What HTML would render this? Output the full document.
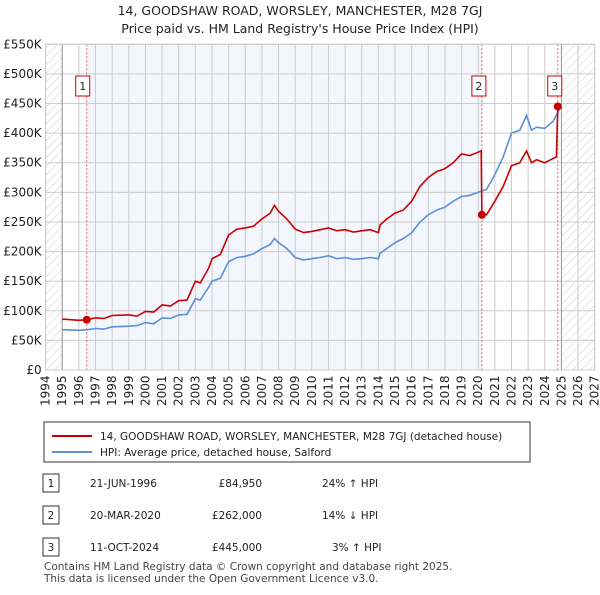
<!DOCTYPE html>
<html><head><meta charset="utf-8"><style>
body{margin:0;background:#fff;font-family:"Liberation Sans","DejaVu Sans",sans-serif;}
svg text{font-family:"DejaVu Sans","Liberation Sans",sans-serif;}
</style></head><body>
<svg width="600" height="590" xmlns="http://www.w3.org/2000/svg">
<defs><pattern id="hatch" width="6" height="6" patternUnits="userSpaceOnUse" patternTransform="rotate(45)"><line x1="0" y1="0" x2="0" y2="6" stroke="#ccc" stroke-width="1"/></pattern></defs>
<text x="300" y="15" text-anchor="middle" font-size="12.5" fill="#222">14, GOODSHAW ROAD, WORSLEY, MANCHESTER, M28 7GJ</text>
<text x="300" y="33" text-anchor="middle" font-size="12.5" fill="#222">Price paid vs. HM Land Registry's House Price Index (HPI)</text>
<g id="plot"></g>
<g>
<rect x="44" y="422" width="486" height="40" fill="#fff" stroke="#333"/>
<line x1="52" y1="436" x2="92" y2="436" stroke="#cc0000" stroke-width="2"/>
<text x="100" y="440" font-size="10.5" fill="#222">14, GOODSHAW ROAD, WORSLEY, MANCHESTER, M28 7GJ (detached house)</text>
<line x1="52" y1="452" x2="92" y2="452" stroke="#5b8fd6" stroke-width="2"/>
<text x="100" y="456" font-size="10.5" fill="#222">HPI: Average price, detached house, Salford</text>
</g>
<g font-size="10.5" fill="#222">
<rect x="43" y="474" width="16" height="18" fill="#fff" stroke="#333"/><text x="51" y="487" text-anchor="middle">1</text>
<text x="90" y="487">21-JUN-1996</text><text x="262" y="487" text-anchor="end">£84,950</text><text x="322" y="487">24% ↑ HPI</text>
<rect x="43" y="506" width="16" height="18" fill="#fff" stroke="#333"/><text x="51" y="519" text-anchor="middle">2</text>
<text x="90" y="519">20-MAR-2020</text><text x="262" y="519" text-anchor="end">£262,000</text><text x="322" y="519">14% ↓ HPI</text>
<rect x="43" y="538" width="16" height="18" fill="#fff" stroke="#333"/><text x="51" y="551" text-anchor="middle">3</text>
<text x="90" y="551">11-OCT-2024</text><text x="262" y="551" text-anchor="end">£445,000</text><text x="332" y="551">3% ↑ HPI</text>
</g>
<text x="44" y="570" font-size="10.5" fill="#444">Contains HM Land Registry data © Crown copyright and database right 2025.</text>
<text x="44" y="582" font-size="10.5" fill="#444">This data is licensed under the Open Government Licence v3.0.</text>
</svg>
<script>
const yearTicks=[1994,1995,1996,1997,1998,1999,2000,2001,2002,2003,2004,2005,2006,2007,2008,2009,2010,2011,2012,2013,2014,2015,2016,2017,2018,2019,2020,2021,2022,2023,2024,2025,2026,2027];
const priceTicks=[0,50,100,150,200,250,300,350,400,450,500,550];
const priceTickLabels=["£0","£50K","£100K","£150K","£200K","£250K","£300K","£350K","£400K","£450K","£500K","£550K"];
const hpiDates=[1995,1996,1996.5,1997,1997.5,1998,1999,1999.5,2000,2000.5,2001,2001.5,2002,2002.5,2003,2003.3,2003.8,2004,2004.5,2005,2005.5,2006,2006.5,2007,2007.5,2007.75,2008,2008.5,2009,2009.5,2010,2010.5,2011,2011.5,2012,2012.5,2013,2013.5,2014,2014.1,2014.5,2015,2015.5,2016,2016.5,2017,2017.5,2018,2018.5,2019,2019.5,2020,2020.5,2021,2021.5,2022,2022.5,2022.9,2023.2,2023.5,2024,2024.5,2024.78,2024.95];
const hpiValues=[68,67,68,70,69,73,74,75,80,78,88,87,93,94,120,118,140,150,155,183,190,192,196,205,212,222,215,205,190,186,188,190,193,188,190,187,188,190,188,197,205,215,222,232,250,262,270,275,285,293,295,300,305,330,360,400,405,430,405,410,408,420,435,445];
const priceDates=[1995,1996,1996.47,1997,1997.5,1998,1999,1999.5,2000,2000.5,2001,2001.5,2002,2002.5,2003,2003.3,2003.8,2004,2004.5,2005,2005.5,2006,2006.5,2007,2007.5,2007.75,2008,2008.5,2009,2009.5,2010,2010.5,2011,2011.5,2012,2012.5,2013,2013.5,2014,2014.1,2014.5,2015,2015.5,2016,2016.5,2017,2017.5,2018,2018.5,2019,2019.5,2020.18,2020.22,2020.5,2021,2021.5,2022,2022.5,2022.9,2023.2,2023.5,2024,2024.7,2024.78];
const priceValues=[86,84,85,88,87,92,93,91,99,98,110,108,117,118,150,147,172,188,195,228,238,240,243,255,265,278,268,255,238,232,234,237,240,235,237,233,235,237,232,245,255,265,270,285,310,325,335,340,350,365,362,370,262,262,285,310,345,350,370,350,355,350,360,445];
const saleDates=[1996.47,2020.22,2024.78];
const saleValues=[84.95,262,445];
const saleLabels=["1","2","3"];
const x0=45.6,x1=594.7,y0=370,y1=44.3;
const X=d=>x0+(d-1994)/(2027-1994)*(x1-x0);
const Y=v=>y0-v/550*(y0-y1);
const NS="http://www.w3.org/2000/svg";
const g=document.getElementById('plot');
function mk(t,a,p){const e=document.createElementNS(NS,t);for(const k in a)e.setAttribute(k,a[k]);(p||g).appendChild(e);return e;}
let e;
e=mk('rect',{x:x0,y:y1,width:x1-x0,height:y0-y1,fill:'#fff'});
e=mk('rect',{x:X(saleDates[0]),y:y1,width:X(saleDates[1])-X(saleDates[0]),height:y0-y1,fill:'#f3f6fd'});

e=mk('rect',{x:x0,y:y1,width:X(1995)-x0,height:y0-y1,fill:'url(#hatch)'});

e=mk('rect',{x:X(2025.0),y:y1,width:x1-X(2025.0),height:y0-y1,fill:'url(#hatch)'});

yearTicks.forEach(yr=>{e=mk('line',{x1:X(yr),x2:X(yr),y1:y1,y2:y0,stroke:'#ccc','stroke-width':1});

e=mk('text',{transform:`translate(${X(yr)+4},${y0+36}) rotate(-90)`,'font-size':12,fill:'#222'});e.textContent=yr;
});
priceTicks.forEach((v,i)=>{e=mk('line',{x1:x0,x2:x1,y1:Y(v),y2:Y(v),stroke:'#ccc','stroke-width':1});

e=mk('text',{x:x0-4,y:Y(v)+4,'text-anchor':'end','font-size':12,fill:'#222'});e.textContent=priceTickLabels[i];
});
e=mk('line',{x1:X(1995),x2:X(1995),y1:y1,y2:y0,stroke:'#999'});
e=mk('line',{x1:X(2025.0),x2:X(2025.0),y1:y1,y2:y0,stroke:'#999'});
saleDates.forEach((d,i)=>{e=mk('line',{x1:X(d),x2:X(d),y1:y1,y2:y0,stroke:'#e06666','stroke-dasharray':'2,2'});
});
const pts=(ds,vs)=>ds.map((d,i)=>X(d).toFixed(1)+','+Y(vs[i]).toFixed(1)).join(' ');
e=mk('polyline',{points:pts(hpiDates,hpiValues),fill:'none',stroke:'#5b8fd6','stroke-width':1.6});

e=mk('polyline',{points:pts(priceDates,priceValues),fill:'none',stroke:'#cc0000','stroke-width':1.6});

saleDates.forEach((d,i)=>{e=mk('circle',{cx:X(d),cy:Y(saleValues[i]),r:4,fill:'#cc0000'});

const bx=X(d)-7-(i==0?4:3);
e=mk('rect',{x:bx,y:76,width:14,height:20,fill:'#fff',stroke:'#cc0000'});

e=mk('text',{x:bx+7,y:90,'text-anchor':'middle','font-size':11,fill:'#222'});e.textContent=saleLabels[i];
});
e=mk('rect',{x:x0,y:y1,width:x1-x0,height:y0-y1,fill:'none',stroke:'#ccc'});
</script>
</body></html>
